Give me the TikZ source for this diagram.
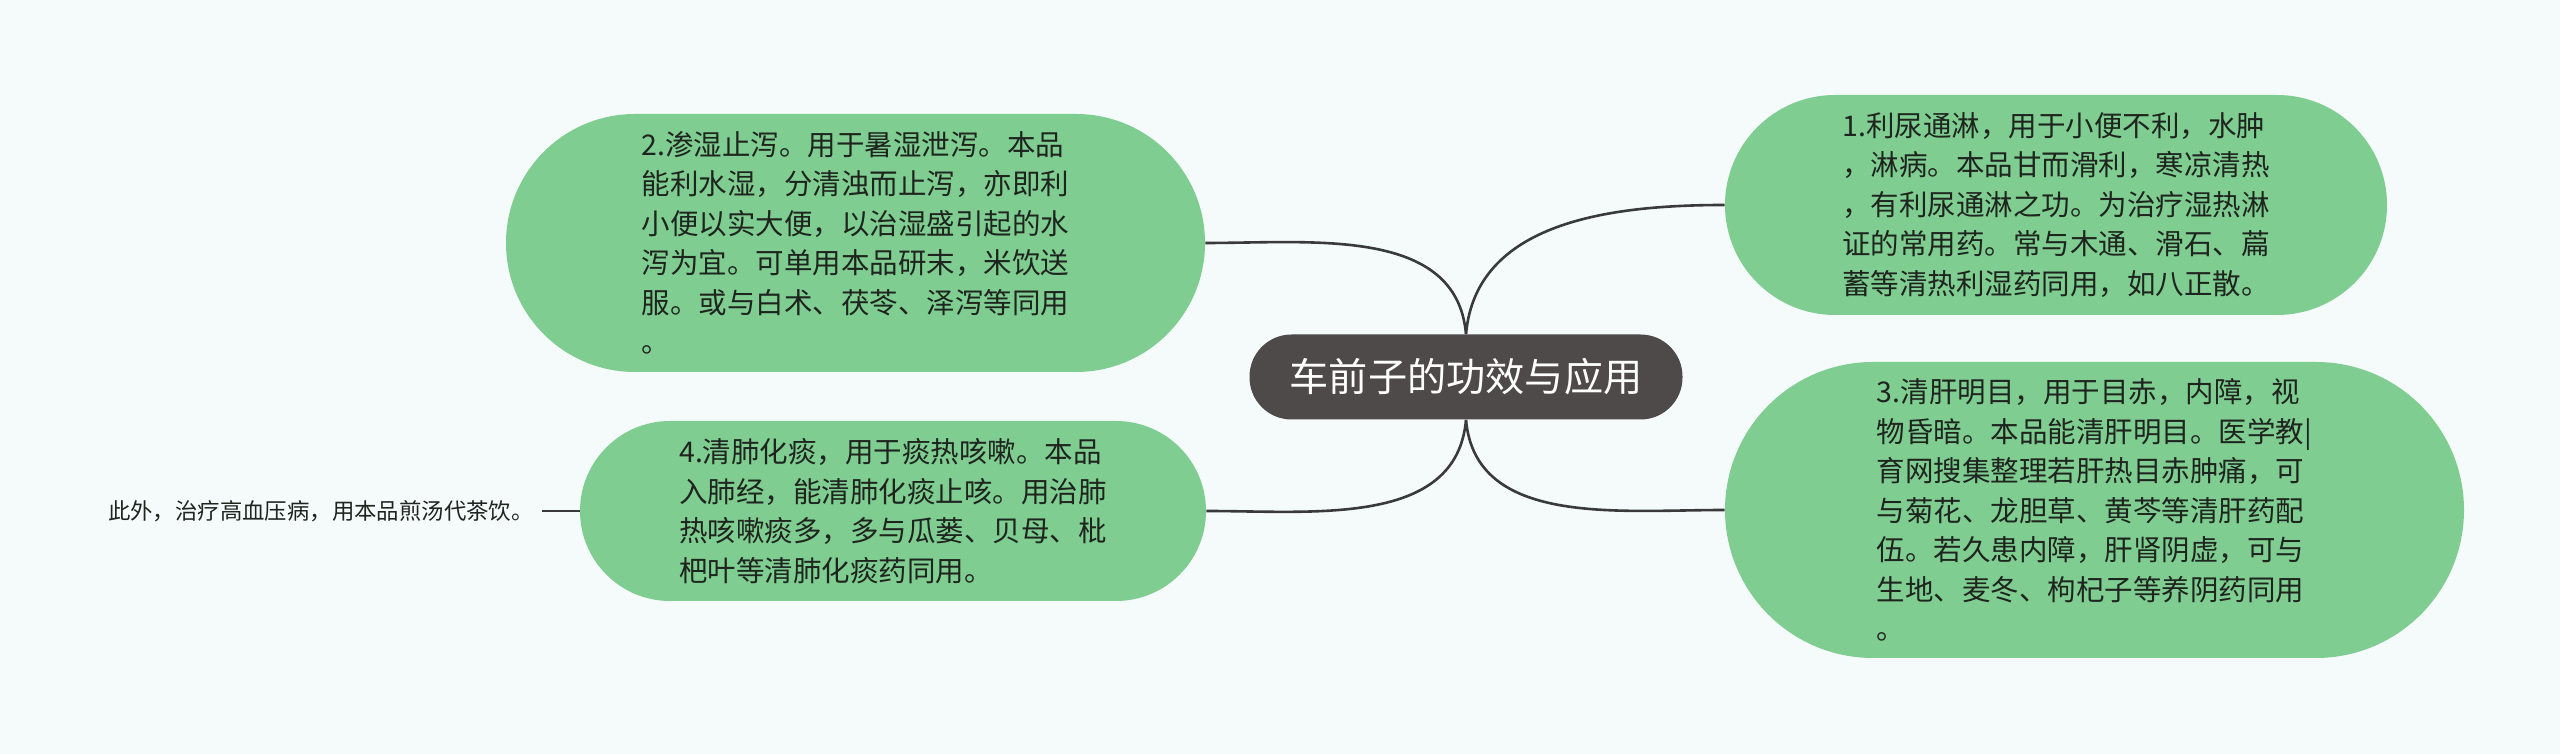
\documentclass[tikz,border=0pt]{standalone}
\usepackage{fontspec}
\setmainfont{Noto Sans CJK SC}
\definecolor{bgc}{HTML}{F5FBFB}
\definecolor{leaf}{HTML}{80CD92}
\definecolor{root}{HTML}{4F4A4A}
\definecolor{linec}{HTML}{3A3A3A}
\definecolor{txt}{HTML}{1E241E}
\tikzset{
  leafbox/.style={fill=leaf, draw=none, align=left, text=txt, inner sep=0pt,
    font=\fontsize{14.25pt}{19.75pt}\selectfont},
  rootbox/.style={fill=root, draw=none, text=white, inner sep=0pt,
    minimum width=216.5pt, minimum height=42.5pt, rounded corners=21pt,
    font=\fontsize{19.6pt}{24pt}\selectfont},
  conn/.style={draw=linec, line width=1.3pt},
}
\begin{document}
\begin{tikzpicture}[x=0.5pt,y=0.5pt]
\fill[bgc] (0,0) rectangle (2560,754);
\useasboundingbox (0,0) rectangle (2560,754);

\node[rootbox] (c) at (1466,377) {车前子的功效与应用};

\node[leafbox, minimum width=331pt, minimum height=110pt, rounded corners=55pt] (n1) at (2056,549)
{1.利尿通淋，用于小便不利，水肿\\，淋病。本品甘而滑利，寒凉清热\\，有利尿通淋之功。为治疗湿热淋\\证的常用药。常与木通、滑石、萹\\蓄等清热利湿药同用，如八正散。};

\node[leafbox, minimum width=349.5pt, minimum height=129pt, rounded corners=64.5pt] (n2) at (855.5,511)
{2.渗湿止泻。用于暑湿泄泻。本品\\能利水湿，分清浊而止泻，亦即利\\小便以实大便，以治湿盛引起的水\\泻为宜。可单用本品研末，米饮送\\服。或与白术、茯苓、泽泻等同用\\。};

\node[leafbox, minimum width=369.5pt, minimum height=148pt, rounded corners=74pt] (n3) at (2094.5,244)
{3.清肝明目，用于目赤，内障，视\\物昏暗。本品能清肝明目。医学教|\\育网搜集整理若肝热目赤肿痛，可\\与菊花、龙胆草、黄芩等清肝药配\\伍。若久患内障，肝肾阴虚，可与\\生地、麦冬、枸杞子等养阴药同用\\。};

\node[leafbox, minimum width=313pt, minimum height=90pt, rounded corners=45pt] (n4) at (893,243)
{4.清肺化痰，用于痰热咳嗽。本品\\入肺经，能清肺化痰止咳。用治肺\\热咳嗽痰多，多与瓜蒌、贝母、枇\\杷叶等清肺化痰药同用。};

\node[anchor=east, inner xsep=4pt, inner ysep=2pt, text=txt,
  font=\fontsize{11.2pt}{13pt}\selectfont] (t5) at (542,243) {此外，治疗高血压病，用本品煎汤代茶饮。};

\draw[conn] (c.north) to[out=95, in=0] (n2.east);
\draw[conn] (c.north) to[out=85, in=180] (n1.west);
\draw[conn] (c.south) to[out=265, in=0] (n4.east);
\draw[conn] (c.south) to[out=275, in=180] (n3.west);
\draw[conn] (n4.west) -- (t5.east);
\end{tikzpicture}
\end{document}
